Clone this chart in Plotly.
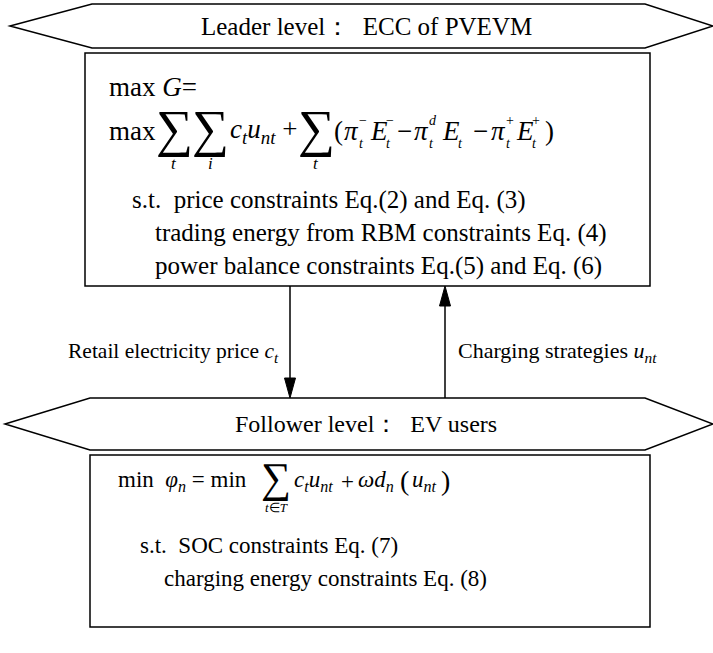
import plotly.graph_objects as go

# Diagram content
LEVEL_TITLES = ["Leader level：  ECC of PVEVM", "Follower level：  EV users"]
LEADER_CONSTRAINTS = [
    "s.t.  price constraints Eq.(2) and Eq. (3)",
    "trading energy from RBM constraints Eq. (4)",
    "power balance constraints Eq.(5) and Eq. (6)",
]
FOLLOWER_CONSTRAINTS = [
    "s.t.  SOC constraints Eq. (7)",
    "charging energy constraints Eq. (8)",
]
ARROW_LABELS = [
    "Retail electricity price <i>c</i><sub><i>t</i></sub>",
    "Charging strategies <i>u</i><sub><i>nt</i></sub>",
]

FONT = "Liberation Serif"
W, H = 713, 653

fig = go.Figure()


def txt(x, y, s, size=24, anchor="left"):
    fig.add_annotation(x=x, y=y, text=s, showarrow=False, xanchor=anchor,
                       yanchor="middle", font=dict(family=FONT, size=size, color="black"))


def hexagon(x0, x1, x2, x3, y0, y1):
    ym = (y0 + y1) / 2
    path = f"M {x0},{ym} L {x1},{y0} L {x2},{y0} L {x3},{ym} L {x2},{y1} L {x1},{y1} Z"
    fig.add_shape(type="path", path=path, line=dict(color="black", width=1.5),
                  fillcolor="white")


def box(x0, y0, x1, y1):
    fig.add_shape(type="rect", x0=x0, y0=y0, x1=x1, y1=y1,
                  line=dict(color="black", width=1.5), fillcolor="white")


def arrow(x, y_from, y_to):
    # shaft + long narrow filled head
    d = 1 if y_to > y_from else -1
    base = y_to - d * 20
    fig.add_shape(type="line", x0=x, x1=x, y0=y_from, y1=base,
                  line=dict(color="black", width=1.5))
    fig.add_shape(type="path", path=f"M {x},{y_to} L {x - 5.5},{base} L {x + 5.5},{base} Z",
                  fillcolor="black", line=dict(color="black", width=1))


# ── Leader level ──
hexagon(10, 92, 645, 713, 4, 48)
txt(366, 26, LEVEL_TITLES[0], 25, "center")
box(85, 53, 650, 286)

txt(107, 87, "max <i>G</i>=", 27)
txt(107, 131, "max", 27)
for xs, lim in [(174, "t"), (210, "i"), (316, "t")]:
    txt(xs, 129, "∑", 52, "center")
    txt(xs, 163, f"<i>{lim}</i>", 17, "center")
txt(228, 131, "<i>c</i><sub><i>t</i></sub><i>u</i><sub><i>nt</i></sub> +", 27)
txt(332, 131, "(", 27)
for xg, g, sup in [(342, "π", "−"), (368, "E", "−"), (412, "π", "d"),
                   (440, "E", ""), (489, "π", "+"), (514, "E", "+")]:
    txt(xg, 131, f"<i>{g}</i>", 27)
    off = 15 if g == "π" else 16
    if sup:
        txt(xg + off, 120, f"<i>{sup}</i>" if sup == "d" else sup, 14)
    txt(xg + off, 143, "<i>t</i>", 14)
txt(395, 131, "−", 27)
txt(471, 131, "−", 27)
txt(543, 131, ")", 27)

for i, line in enumerate(LEADER_CONSTRAINTS):
    txt(130 if i == 0 else 153, 200 + 33 * i, line, 25)

# ── Arrows between levels ──
arrow(290, 286, 398)
arrow(445, 398, 286)
txt(281, 352, ARROW_LABELS[0], 21.5, "right")
txt(456, 352, ARROW_LABELS[1], 22, "left")

# ── Follower level ──
hexagon(5, 90, 645, 713, 398, 450)
txt(366, 424, LEVEL_TITLES[1], 24, "center")
box(90, 455, 650, 627)

txt(116, 481, "min  <i>φ</i><sub><i>n</i></sub> = min", 23)
txt(276, 478, "∑", 42, "center")
txt(276, 507, "<i>t</i>∈<i>T</i>", 13, "center")
txt(292, 481, "<i>c</i><sub><i>t</i></sub><i>u</i><sub><i>nt</i></sub>", 23)
txt(339, 481, "+", 23)
txt(356, 481, "<i>ωd</i><sub><i>n</i></sub>", 23)
txt(398, 480, "(", 28)
txt(410, 481, "<i>u</i><sub><i>nt</i></sub>", 23)
txt(439, 480, ")", 28)

for i, line in enumerate(FOLLOWER_CONSTRAINTS):
    txt(138 if i == 0 else 162, 545 + 33 * i, line, 23)

fig.update_layout(
    width=W, height=H,
    margin=dict(l=0, r=0, t=0, b=0),
    paper_bgcolor="white", plot_bgcolor="white",
    xaxis=dict(range=[0, W], visible=False, fixedrange=True),
    yaxis=dict(range=[H, 0], visible=False, fixedrange=True),
    showlegend=False,
)

fig.write_html("out.html", config={"displayModeBar": False},
               post_script="document.body.style.margin='0';")
